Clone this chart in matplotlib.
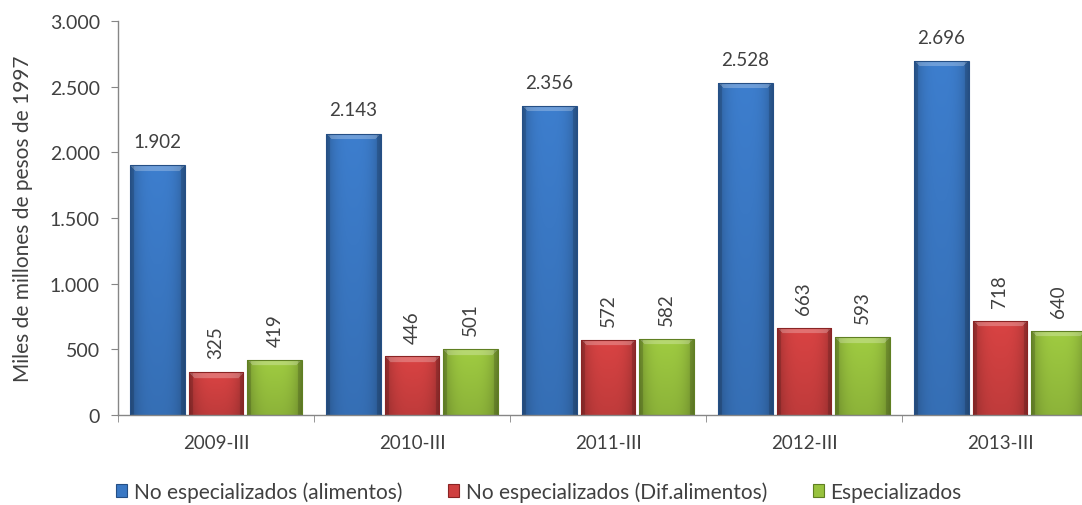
import numpy as np
import matplotlib.pyplot as plt
from matplotlib.ticker import FuncFormatter

# data
periodos = ['2009-III', '2010-III', '2011-III', '2012-III', '2013-III']
no_esp_alim = [1902, 2143, 2356, 2528, 2696]
no_esp_dif = [325, 446, 572, 663, 718]
especializados = [419, 501, 582, 593, 640]
series_names = ['No especializados (alimentos)', 'No especializados (Dif.alimentos)', 'Especializados']

colores = ['#3a78c4', '#cf4040', '#98c23e']
bordes = ['#254f85', '#8a2424', '#5f7f22']

plt.rcParams['font.family'] = ['Lato', 'DejaVu Sans']

fig = plt.figure(figsize=(10.82, 5.06), dpi=100)
ax = fig.add_axes([118 / 1082, 90 / 506, 980 / 1082, 394 / 506])

x = np.arange(len(periodos))
width = 0.28
offsets = [-0.30, 0.0, 0.30]
all_series = [no_esp_alim, no_esp_dif, especializados]

ax.set_xlim(-0.5, len(periodos) - 0.5)
ax.set_ylim(0, 3000)


def fmt_miles(v):
    return f'{int(round(v)):,}'.replace(',', '.')


def shade_bar(rect, base):
    # fake the Excel bevel look with a small image clipped to the bar
    x0, w, h = rect.get_x(), rect.get_width(), rect.get_height()
    p0 = ax.transData.transform((x0, 0))
    p1 = ax.transData.transform((x0 + w, h))
    nx = max(int(p1[0] - p0[0]), 2)
    ny = max(int(p1[1] - p0[1]), 2)
    u = np.linspace(0, 1, nx)
    v = np.linspace(0, 1, ny)[:, None]  # 0 = top row
    col = np.array(plt.matplotlib.colors.to_rgb(base))
    horiz = 1.05 - 0.25 * np.abs(2 * u - 1) ** 3
    vert = 1.0 - 0.12 * v
    img = col[None, None, :] * (horiz[None, :] * vert)[:, :, None]
    # top bevel highlight
    top_px = 6
    upx = np.arange(nx)
    vpx = np.arange(ny)[:, None]
    bevel = (vpx < top_px) & (upx >= vpx) & (upx < nx - vpx)
    img[bevel] = img[bevel] * 0.75 + 0.25
    # side edges darker
    edge = (upx < 4) | (upx >= nx - 4)
    img[:, edge] = img[:, edge] * 0.85
    img = np.clip(img, 0, 1)
    im = ax.imshow(img, extent=(x0, x0 + w, 0, h), aspect='auto',
                   interpolation='bilinear', zorder=2)
    im.set_clip_path(rect)


for i, vals in enumerate(all_series):
    bars = ax.bar(x + offsets[i], vals, width, color=colores[i], edgecolor=bordes[i],
                  linewidth=0.8, label=series_names[i], zorder=3)
    for rect in bars:
        rect.set_facecolor('none')
        shade_bar(rect, colores[i])
    for xi, val in zip(x + offsets[i], vals):
        if i == 0:
            ax.annotate(fmt_miles(val), (xi, val), xytext=(0, 13), textcoords='offset points',
                        ha='center', va='baseline', fontsize=13.5, color='#404040')
        else:
            ax.annotate(fmt_miles(val), (xi, val), xytext=(0, 10), textcoords='offset points',
                        ha='center', va='bottom', rotation=90, fontsize=13.5, color='#404040')

ax.set_xlim(-0.5, len(periodos) - 0.5)
ax.set_ylim(0, 3000)

ax.yaxis.set_major_formatter(FuncFormatter(lambda v, p: fmt_miles(v)))
ax.set_yticks(np.arange(0, 3001, 500))
ax.set_xticks(x)
ax.set_xticklabels(periodos)
ax.set_xticks(np.arange(-0.5, len(periodos), 1), minor=True)
ax.tick_params(axis='x', which='major', length=0, pad=14, labelsize=13.5, colors='#404040')
ax.tick_params(axis='x', which='minor', length=5, color='#868686')
ax.tick_params(axis='y', length=5, color='#868686', labelsize=14, labelcolor='#404040', pad=8)

for s in ['top', 'right']:
    ax.spines[s].set_visible(False)
for s in ['left', 'bottom']:
    ax.spines[s].set_color('#868686')
    ax.spines[s].set_linewidth(1)

ax.set_ylabel('Miles de millones de pesos de 1997', fontsize=15, color='#404040', labelpad=12)

handles, labels = ax.get_legend_handles_labels()
leg = fig.legend(handles, labels, loc='center', bbox_to_anchor=(0.498, 0.026), ncol=3,
                 frameon=False, fontsize=15, handlelength=0.55, handleheight=0.55,
                 handletextpad=0.3, columnspacing=2.2, labelcolor='#404040')
for h, c in zip(leg.legend_handles, colores):
    h.set_facecolor(c)

fig.savefig('out.png', dpi=100)
